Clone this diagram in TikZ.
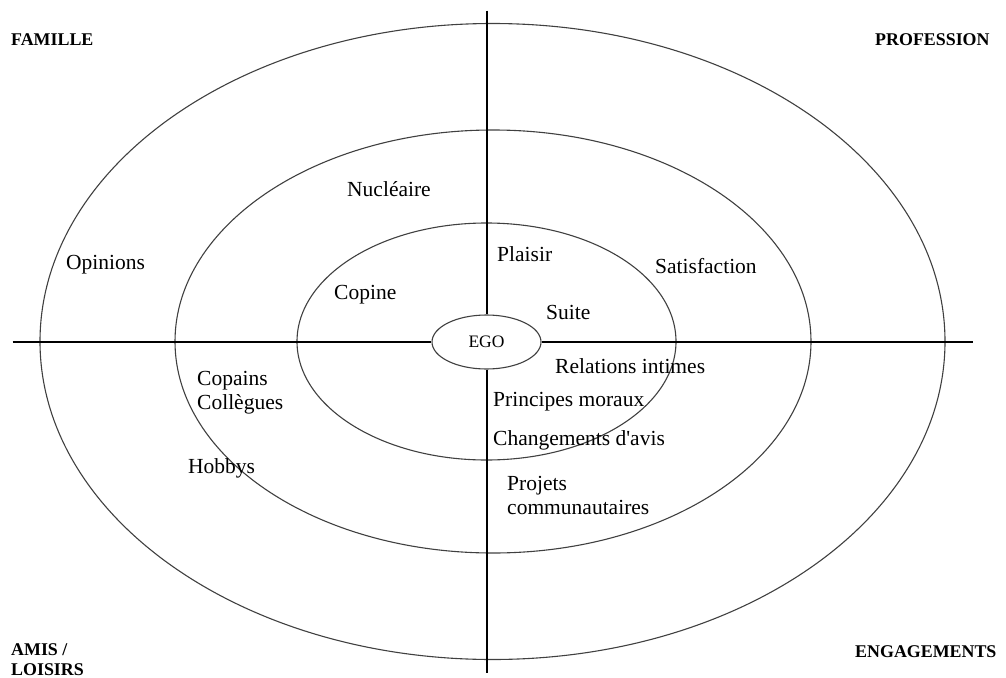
\documentclass[tikz,border=0pt]{standalone}
\usepackage{fontspec}
\setmainfont{Liberation Serif}[Ligatures=TeXOff]
\usetikzlibrary{shapes.geometric}

\begin{document}
\begin{tikzpicture}[x=1pt,y=-1pt,
        ring/.style={draw=black!75,line width=1.1pt},
        axis/.style={draw=black,line width=2pt},
        lbl/.style={anchor=base west,inner sep=0pt,align=left,
            font=\fontsize{21.5}{24}\selectfont},
        corner/.style={anchor=base west,inner sep=0pt,align=left,
            font=\fontsize{17.9}{20}\selectfont\bfseries}]
            \useasboundingbox (0,0) rectangle (1006,677);

            %%%%%%%%%%%%%%%%%%%%%%%%%%%%%%%%%%%
            % rings
            \draw[ring] (492.5, 341.5) ellipse [x radius=452.5, y radius=318];
            \draw[ring] (493.0, 341.5) ellipse [x radius=318, y radius=211.5];
            \draw[ring] (486.5, 341.5) ellipse [x radius=189.5, y radius=118.5];

            %%%%%%%%%%%%%%%%%%%%%%%%%%%%%%%%%%%
            % axes
            \node[ellipse,draw=black!75,line width=1.1pt,fill=white,
                minimum width=109pt,minimum height=54pt,inner sep=0pt,
                font=\fontsize{17.5}{20}\selectfont] (ego) at (486.5, 342) {EGO};
            \coordinate (west) at (12.7, 342);
            \coordinate (east) at (972.7, 342);
            \coordinate (north) at (486.5, 10.7);
            \coordinate (south) at (486.5, 672.7);
            \draw[axis] (west) -- (ego);
            \draw[axis] (ego) -- (east);
            \draw[axis] (north) -- (ego);
            \draw[axis] (ego) -- (south);

            %%%%%%%%%%%%%%%%%%%%%%%%%%%%%%%%%%%
            % corners
            \node[corner] (famille) at (11, 46) {FAMILLE};
            \node[corner] (profession) at (875, 46) {PROFESSION};
            \node[corner] (amis) at (11, 675) {AMIS /\\LOISIRS};
            \node[corner] (engagements) at (855, 657) {ENGAGEMENTS};

            %%%%%%%%%%%%%%%%%%%%%%%%%%%%%%%%%%%
            % labels
            \node[lbl] (nucleaire) at (347, 196) {Nucléaire};
            \node[lbl] (opinions) at (66, 269) {Opinions};
            \node[lbl] (copine) at (334, 299) {Copine};
            \node[lbl] (plaisir) at (497, 261) {Plaisir};
            \node[lbl] (satisfaction) at (655, 273) {Satisfaction};
            \node[lbl] (suite) at (546, 319) {Suite};
            \node[lbl] (relations) at (555, 373) {Relations intimes};
            \node[lbl] (copains) at (197, 409) {Copains\\Collègues};
            \node[lbl] (principes) at (493, 406) {Principes moraux};
            \node[lbl] (changements) at (493, 445) {Changements d'avis};
            \node[lbl] (hobbys) at (188, 473) {Hobbys};
            \node[lbl] (projets) at (507, 514) {Projets\\communautaires};
        \end{tikzpicture}
\end{document}
